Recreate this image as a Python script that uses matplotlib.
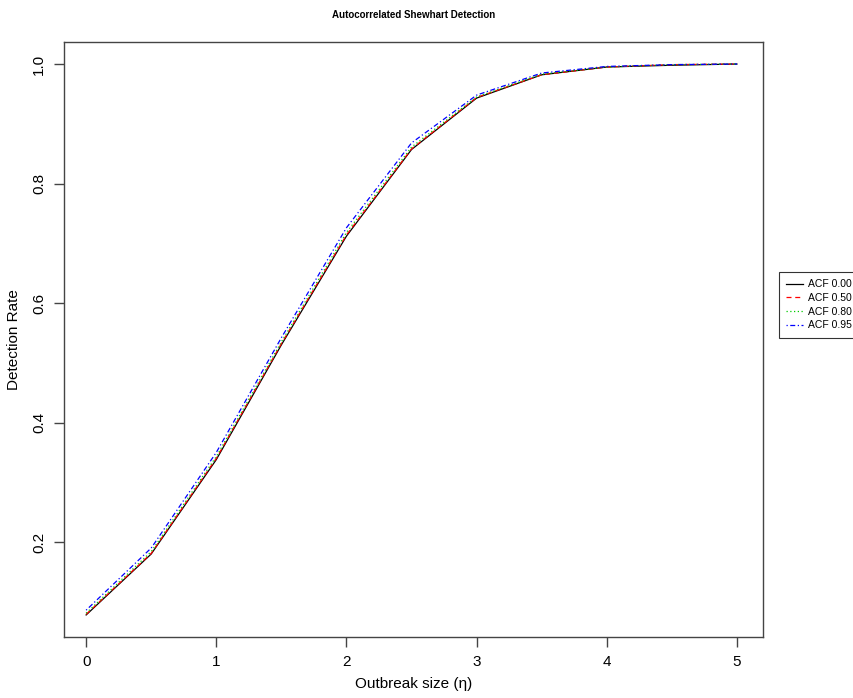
import matplotlib.pyplot as plt
import numpy as np

plt.rcParams['font.family'] = ['Liberation Sans', 'DejaVu Sans']

# detection rate vs outbreak size for each autocorrelation level
eta = [0, 0.5, 1, 1.5, 2, 2.5, 3, 3.5, 4, 4.5, 5]
acf_000 = [0.078, 0.180, 0.338, 0.530, 0.712, 0.857, 0.943, 0.982, 0.995, 0.998, 1.000]
acf_050 = [0.079, 0.181, 0.340, 0.532, 0.714, 0.858, 0.944, 0.982, 0.995, 0.999, 1.000]
acf_080 = [0.081, 0.184, 0.343, 0.535, 0.718, 0.861, 0.945, 0.983, 0.995, 0.999, 1.000]
acf_095 = [0.086, 0.190, 0.350, 0.542, 0.726, 0.868, 0.948, 0.985, 0.996, 0.999, 1.000]
labels = ['ACF 0.00', 'ACF 0.50', 'ACF 0.80', 'ACF 0.95']

series = [acf_000, acf_050, acf_080, acf_095]
colors = ['black', 'red', '#00cd00', 'blue']
styles = ['-', (0, (4, 3)), (0, (1, 2)), (0, (1, 2, 4, 2))]

fig = plt.figure(figsize=(8.54, 6.98), dpi=100)
ax = fig.add_axes([64 / 854, 1 - 637 / 698, (763 - 64) / 854, (637 - 42) / 698])

for ys, c, ls, lab in zip(series, colors, styles, labels):
    ax.plot(eta, ys, color=c, linestyle=ls, linewidth=0.9, label=lab)

# R-style 4% padding around the data range
allv = np.concatenate(series)
ypad = 0.04 * (allv.max() - allv.min())
ax.set_ylim(allv.min() - ypad, allv.max() + ypad)
ax.set_xlim(-0.17, 5.2)
ax.set_xticks([0, 1, 2, 3, 4, 5])
ax.set_yticks([0.2, 0.4, 0.6, 0.8, 1.0])
ax.set_yticklabels(['0.2', '0.4', '0.6', '0.8', '1.0'], rotation=90, va='center')
ax.tick_params(direction='out', length=7, width=1, labelsize=11, color='#444444', pad=6)
for sp in ax.spines.values():
    sp.set_color('#444444')
    sp.set_linewidth(1)

ax.set_xlabel('Outbreak size (η)', fontsize=11, labelpad=6)
ax.set_ylabel('Detection Rate', fontsize=11, labelpad=8)
fig.text(414 / 854, 1 - 15 / 698, 'Autocorrelated Shewhart Detection',
         ha='center', va='center', fontsize=7, fontweight='bold')

leg = ax.legend(loc='upper left', bbox_to_anchor=(779 / 854, 1 - 272 / 698),
                bbox_transform=fig.transFigure, fontsize=7.5, frameon=True,
                fancybox=False, edgecolor='black', handlelength=1.6,
                handletextpad=0.5, borderaxespad=0, labelspacing=0.35,
                borderpad=0.7)
leg.get_frame().set_linewidth(0.8)

fig.savefig('out.png', dpi=100)
